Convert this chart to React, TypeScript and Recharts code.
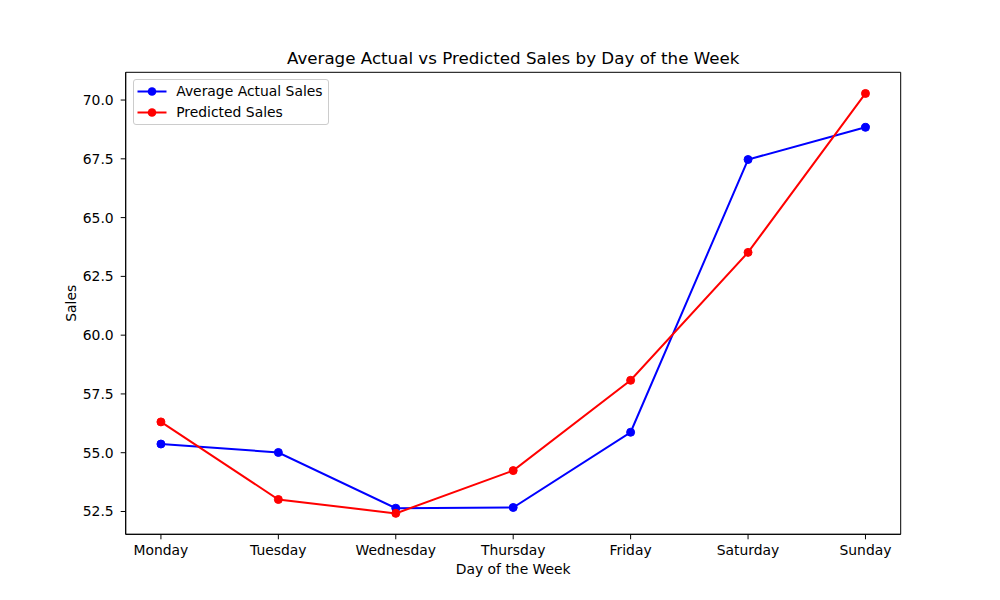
import React from 'react';
import { LineChart, Line, XAxis, YAxis, Legend, ReferenceArea } from 'recharts';

const days = ['Monday', 'Tuesday', 'Wednesday', 'Thursday', 'Friday', 'Saturday', 'Sunday'];
const actualSales = [55.37, 55.01, 52.64, 52.67, 55.87, 67.47, 68.84];
const predictedSales = [56.31, 53.01, 52.42, 54.24, 58.08, 63.52, 70.28];
const yTicks = [52.5, 55.0, 57.5, 60.0, 62.5, 65.0, 67.5, 70.0];
const xTicks = [0, 1, 2, 3, 4, 5, 6];

const data = days.map((d, i) => ({ idx: i, day: d, actual: actualSales[i], predicted: predictedSales[i] }));

const FONT = '"DejaVu Sans", sans-serif';
const TICK = { fill: '#000', fontSize: 13.9, fontFamily: FONT };
const X_DOMAIN: [number, number] = [-0.3, 6.3];
const Y_DOMAIN: [number, number] = [51.53, 71.18];

const renderLegend = (props: any) => {
  const payload = props.payload || [];
  return (
    <div
      style={{
        width: 194,
        height: 44,
        border: '1px solid #cccccc',
        borderRadius: 3,
        background: 'rgba(255,255,255,0.8)',
        position: 'relative',
        fontFamily: FONT,
        fontSize: 13.9,
        color: '#000',
      }}
    >
      {payload.map((p: any, i: number) => (
        <div key={i} style={{ position: 'absolute', left: 0, top: 1 + i * 21, height: 21, width: 194 }}>
          <svg width={40} height={21} style={{ position: 'absolute', left: 0, top: 0 }}>
            <line x1={3.5} x2={32.5} y1={10.5} y2={10.5} stroke={p.color} strokeWidth={2} />
            <circle cx={18} cy={10.5} r={4.3} fill={p.color} />
          </svg>
          <span style={{ position: 'absolute', left: 42.5, top: 0, lineHeight: '21px', whiteSpace: 'nowrap' }}>
            {p.value}
          </span>
        </div>
      ))}
    </div>
  );
};

export default function App() {
  return (
    <div style={{ position: 'absolute', left: 0, top: 0, width: 1000, height: 600, background: '#fff', fontFamily: FONT }}>
      <LineChart
        width={1000}
        height={600}
        data={data}
        margin={{ top: 71.3, right: 98.3, bottom: 25.7, left: 65.7 }}
      >
        <XAxis
          xAxisId="bottom"
          dataKey="idx"
          type="number"
          domain={X_DOMAIN}
          ticks={xTicks}
          tickFormatter={(v: number) => days[v]}
          height={40}
          stroke="#000"
          tick={TICK}
          tickSize={5}
          tickMargin={6}
          interval={0}
          label={{ value: 'Day of the Week', position: 'insideBottom', offset: 0, fill: '#000', fontSize: 13.9, fontFamily: FONT }}
        />
        <XAxis
          xAxisId="top"
          dataKey="idx"
          type="number"
          orientation="top"
          domain={X_DOMAIN}
          height={1}
          tick={false}
          tickLine={false}
          axisLine={false}
          label={{ value: 'Average Actual vs Predicted Sales by Day of the Week', position: 'top', offset: 7, fill: '#000', fontSize: 16.7, fontFamily: FONT }}
        />
        <YAxis
          yAxisId="left"
          type="number"
          domain={Y_DOMAIN}
          allowDataOverflow
          ticks={yTicks}
          tickFormatter={(v: number) => v.toFixed(1)}
          width={60}
          stroke="#000"
          tick={TICK}
          tickSize={5}
          tickMargin={7}
          interval={0}
          label={{ value: 'Sales', angle: -90, position: 'insideLeft', offset: 5.6, fill: '#000', fontSize: 13.9, fontFamily: FONT, style: { textAnchor: 'middle' } }}
        />
        <YAxis
          yAxisId="right"
          orientation="right"
          type="number"
          domain={Y_DOMAIN}
          width={1}
          tick={false}
          tickLine={false}
          axisLine={false}
        />
        <ReferenceArea
          xAxisId="bottom"
          yAxisId="left"
          x1={X_DOMAIN[0]}
          x2={X_DOMAIN[1]}
          y1={Y_DOMAIN[0]}
          y2={Y_DOMAIN[1]}
          fill="none"
          fillOpacity={0}
          stroke="#000"
          strokeWidth={1}
          strokeOpacity={1}
          ifOverflow="visible"
        />
        <Legend
          layout="vertical"
          align="center"
          verticalAlign="middle"
          content={renderLegend}
          wrapperStyle={{ left: 132.7, top: 79, width: 196, height: 46 }}
        />
        <Line
          xAxisId="bottom"
          yAxisId="left"
          type="linear"
          dataKey="actual"
          name="Average Actual Sales"
          stroke="#0000ff"
          strokeWidth={2}
          dot={{ r: 4, fill: '#0000ff', stroke: '#0000ff', strokeWidth: 1 }}
          activeDot={false}
          isAnimationActive={false}
        />
        <Line
          xAxisId="bottom"
          yAxisId="left"
          type="linear"
          dataKey="predicted"
          name="Predicted Sales"
          stroke="#ff0000"
          strokeWidth={2}
          dot={{ r: 4, fill: '#ff0000', stroke: '#ff0000', strokeWidth: 1 }}
          activeDot={false}
          isAnimationActive={false}
        />
      </LineChart>
    </div>
  );
}
